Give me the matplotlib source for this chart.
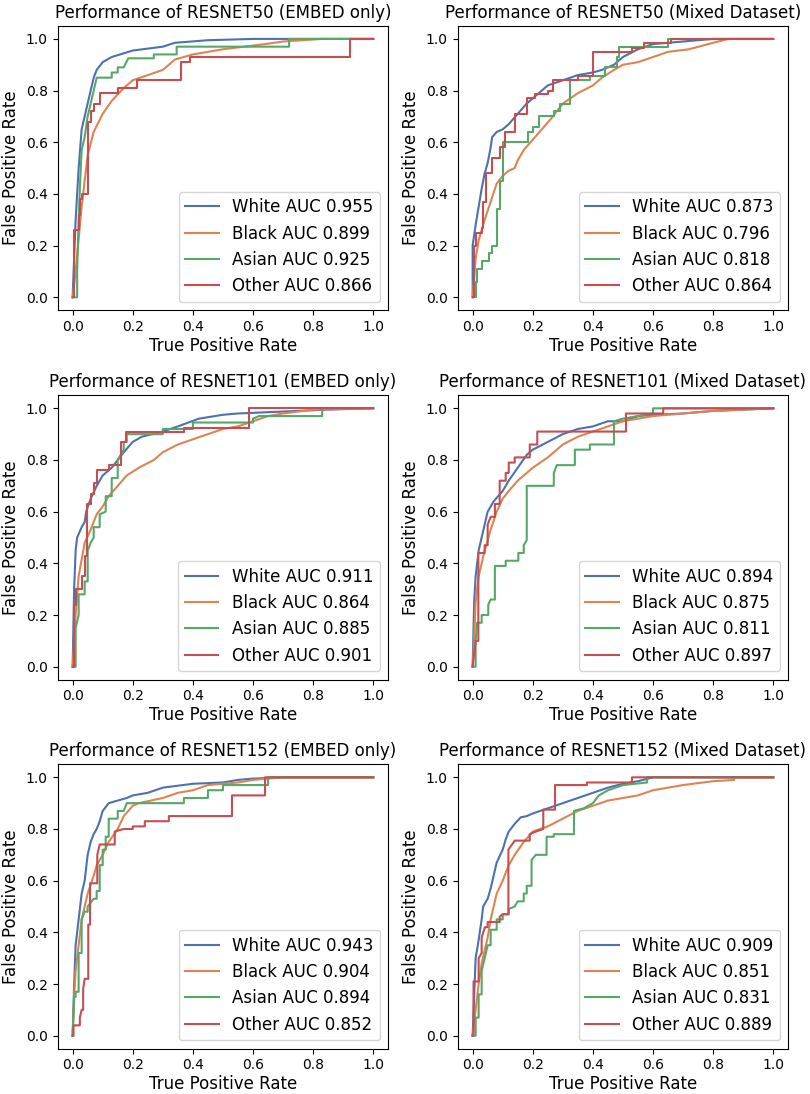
import matplotlib
matplotlib.use("Agg")
import matplotlib.pyplot as plt

groups = ["White", "Black", "Asian", "Other"]
colors = ["#4C72B0", "#DD8452", "#55A868", "#C44E52"]

titles = ["Performance of RESNET50 (EMBED only)", "Performance of RESNET50 (Mixed Dataset)",
          "Performance of RESNET101 (EMBED only)", "Performance of RESNET101 (Mixed Dataset)",
          "Performance of RESNET152 (EMBED only)", "Performance of RESNET152 (Mixed Dataset)"]

auc_values = [[0.955, 0.899, 0.925, 0.866],
              [0.873, 0.796, 0.818, 0.864],
              [0.911, 0.864, 0.885, 0.901],
              [0.894, 0.875, 0.811, 0.897],
              [0.943, 0.904, 0.894, 0.852],
              [0.909, 0.851, 0.831, 0.889]]

# ---------------- RESNET50 EMBED only ----------------
r50e_white_fpr = [0, 0.005, 0.01, 0.02, 0.03, 0.05, 0.07, 0.08, 0.1, 0.13, 0.2, 0.3, 0.34, 0.45, 0.6, 1.0]
r50e_white_tpr = [0, 0.15, 0.3, 0.5, 0.65, 0.75, 0.85, 0.88, 0.91, 0.93, 0.955, 0.97, 0.985, 0.995, 1.0, 1.0]
r50e_black_fpr = [0, 0.01, 0.03, 0.05, 0.07, 0.1, 0.13, 0.17, 0.2, 0.25, 0.3, 0.34, 0.4, 0.5, 0.64, 0.7, 0.83, 1.0]
r50e_black_tpr = [0, 0.1, 0.35, 0.55, 0.64, 0.71, 0.76, 0.81, 0.84, 0.86, 0.88, 0.92, 0.94, 0.96, 0.98, 0.99, 1.0, 1.0]
r50e_asian_fpr = [0, 0.015, 0.015, 0.02, 0.025, 0.03, 0.04, 0.05, 0.06, 0.08, 0.13, 0.13, 0.15, 0.15, 0.17, 0.185, 0.27, 0.27, 0.346, 0.346, 0.72, 0.72, 1.0]
r50e_asian_tpr = [0, 0.0, 0.1, 0.3, 0.45, 0.57, 0.62, 0.7, 0.75, 0.85, 0.85, 0.87, 0.87, 0.89, 0.89, 0.925, 0.925, 0.94, 0.94, 0.97, 0.97, 1.0, 1.0]
r50e_other_fpr = [0, 0.005, 0.005, 0.02, 0.02, 0.025, 0.025, 0.03, 0.03, 0.05, 0.05, 0.06, 0.06, 0.07, 0.07, 0.09, 0.09, 0.15, 0.15, 0.215, 0.215, 0.36, 0.36, 0.39, 0.39, 0.922, 0.922, 1.0]
r50e_other_tpr = [0, 0.0, 0.26, 0.26, 0.32, 0.32, 0.38, 0.38, 0.40, 0.40, 0.68, 0.68, 0.72, 0.72, 0.75, 0.75, 0.79, 0.79, 0.81, 0.81, 0.84, 0.84, 0.91, 0.91, 0.93, 0.93, 1.0, 1.0]

# ---------------- RESNET50 Mixed ----------------
r50m_white_fpr = [0, 0.0, 0.01, 0.02, 0.03, 0.04, 0.05, 0.06, 0.065, 0.08, 0.1, 0.12, 0.15, 0.18, 0.2, 0.23, 0.25, 0.3, 0.35, 0.4, 0.43, 0.47, 0.5, 0.55, 0.6, 0.7, 0.8, 1.0]
r50m_white_tpr = [0, 0.2, 0.28, 0.35, 0.42, 0.48, 0.52, 0.58, 0.62, 0.64, 0.65, 0.67, 0.71, 0.75, 0.77, 0.8, 0.82, 0.84, 0.86, 0.87, 0.88, 0.9, 0.93, 0.96, 0.98, 0.99, 1.0, 1.0]
r50m_black_fpr = [0, 0.01, 0.02, 0.04, 0.06, 0.08, 0.1, 0.12, 0.14, 0.15, 0.17, 0.2, 0.23, 0.26, 0.3, 0.35, 0.4, 0.43, 0.47, 0.5, 0.55, 0.6, 0.65, 0.72, 0.8, 0.85, 1.0]
r50m_black_tpr = [0, 0.15, 0.22, 0.3, 0.37, 0.44, 0.47, 0.49, 0.5, 0.53, 0.57, 0.61, 0.65, 0.69, 0.75, 0.79, 0.82, 0.85, 0.88, 0.9, 0.91, 0.93, 0.95, 0.96, 0.985, 1.0, 1.0]
r50m_asian_fpr = [0, 0.01, 0.01, 0.015, 0.015, 0.03, 0.03, 0.054, 0.054, 0.065, 0.065, 0.08, 0.08, 0.09, 0.09, 0.1, 0.1, 0.185, 0.185, 0.2, 0.2, 0.22, 0.22, 0.27, 0.27, 0.29, 0.29, 0.324, 0.324, 0.39, 0.39, 0.44, 0.44, 0.48, 0.48, 0.488, 0.488, 0.65, 0.65, 1.0]
r50m_asian_tpr = [0, 0.0, 0.06, 0.06, 0.11, 0.11, 0.14, 0.14, 0.17, 0.17, 0.2, 0.2, 0.34, 0.34, 0.45, 0.45, 0.6, 0.6, 0.64, 0.64, 0.66, 0.66, 0.7, 0.7, 0.72, 0.72, 0.75, 0.75, 0.84, 0.84, 0.855, 0.855, 0.89, 0.89, 0.93, 0.93, 0.97, 0.97, 1.0, 1.0]
r50m_other_fpr = [0, 0.005, 0.005, 0.01, 0.01, 0.03, 0.03, 0.035, 0.035, 0.045, 0.045, 0.063, 0.063, 0.09, 0.09, 0.108, 0.108, 0.14, 0.14, 0.18, 0.18, 0.207, 0.207, 0.25, 0.25, 0.268, 0.268, 0.35, 0.35, 0.4, 0.4, 0.53, 0.53, 0.57, 0.57, 0.66, 0.66, 1.0]
r50m_other_tpr = [0, 0.0, 0.2, 0.2, 0.25, 0.25, 0.27, 0.27, 0.37, 0.37, 0.48, 0.48, 0.54, 0.54, 0.58, 0.58, 0.64, 0.64, 0.71, 0.71, 0.77, 0.77, 0.785, 0.785, 0.8, 0.8, 0.84, 0.84, 0.855, 0.855, 0.95, 0.95, 0.965, 0.965, 0.985, 0.985, 1.0, 1.0]

# ---------------- RESNET101 EMBED only ----------------
r101e_white_fpr = [0, 0.005, 0.01, 0.015, 0.03, 0.04, 0.045, 0.06, 0.08, 0.1, 0.13, 0.15, 0.17, 0.2, 0.23, 0.3, 0.35, 0.42, 0.5, 0.55, 0.65, 0.75, 0.85, 1.0]
r101e_white_tpr = [0, 0.3, 0.45, 0.5, 0.54, 0.56, 0.6, 0.65, 0.7, 0.74, 0.77, 0.8, 0.83, 0.87, 0.89, 0.91, 0.93, 0.96, 0.975, 0.98, 0.985, 0.99, 0.995, 1.0]
r101e_black_fpr = [0, 0.01, 0.02, 0.04, 0.06, 0.08, 0.1, 0.12, 0.15, 0.18, 0.22, 0.27, 0.3, 0.35, 0.4, 0.45, 0.5, 0.55, 0.6, 0.65, 0.7, 0.8, 1.0]
r101e_black_tpr = [0, 0.2, 0.35, 0.48, 0.53, 0.59, 0.62, 0.66, 0.7, 0.74, 0.77, 0.8, 0.83, 0.86, 0.88, 0.9, 0.92, 0.93, 0.95, 0.97, 0.98, 0.995, 1.0]
r101e_asian_fpr = [0, 0.01, 0.01, 0.02, 0.02, 0.04, 0.04, 0.05, 0.05, 0.06, 0.07, 0.07, 0.09, 0.09, 0.11, 0.11, 0.13, 0.13, 0.15, 0.15, 0.17, 0.17, 0.18, 0.18, 0.3, 0.3, 0.4, 0.4, 0.6, 0.6, 0.62, 0.83, 0.83, 1.0]
r101e_asian_tpr = [0, 0.0, 0.15, 0.2, 0.28, 0.28, 0.33, 0.33, 0.45, 0.48, 0.5, 0.54, 0.54, 0.59, 0.6, 0.66, 0.66, 0.73, 0.73, 0.8, 0.84, 0.87, 0.87, 0.9, 0.9, 0.92, 0.92, 0.945, 0.945, 0.96, 0.97, 0.97, 1.0, 1.0]
r101e_other_fpr = [0, 0.005, 0.005, 0.01, 0.01, 0.03, 0.03, 0.04, 0.04, 0.049, 0.049, 0.06, 0.06, 0.07, 0.07, 0.082, 0.082, 0.12, 0.12, 0.16, 0.16, 0.177, 0.177, 0.37, 0.37, 0.587, 0.587, 1.0]
r101e_other_tpr = [0, 0.0, 0.24, 0.24, 0.3, 0.3, 0.35, 0.35, 0.43, 0.43, 0.63, 0.63, 0.67, 0.67, 0.71, 0.71, 0.76, 0.76, 0.78, 0.78, 0.87, 0.87, 0.91, 0.91, 0.925, 0.925, 1.0, 1.0]

# ---------------- RESNET101 Mixed ----------------
r101m_white_fpr = [0, 0.005, 0.01, 0.02, 0.03, 0.04, 0.05, 0.07, 0.1, 0.12, 0.15, 0.18, 0.2, 0.25, 0.3, 0.35, 0.4, 0.45, 0.5, 0.55, 0.6, 0.7, 0.8, 1.0]
r101m_white_tpr = [0, 0.25, 0.35, 0.45, 0.5, 0.55, 0.6, 0.64, 0.68, 0.72, 0.77, 0.82, 0.84, 0.87, 0.9, 0.92, 0.93, 0.95, 0.95, 0.97, 0.975, 0.98, 0.99, 1.0]
r101m_black_fpr = [0, 0.005, 0.01, 0.02, 0.03, 0.04, 0.06, 0.08, 0.1, 0.12, 0.15, 0.2, 0.25, 0.3, 0.35, 0.4, 0.45, 0.5, 0.55, 0.6, 0.7, 0.8, 1.0]
r101m_black_tpr = [0, 0.1, 0.25, 0.35, 0.4, 0.45, 0.53, 0.6, 0.65, 0.68, 0.72, 0.77, 0.81, 0.86, 0.89, 0.91, 0.93, 0.95, 0.96, 0.97, 0.98, 0.99, 1.0]
r101m_asian_fpr = [0, 0.01, 0.01, 0.015, 0.03, 0.03, 0.052, 0.052, 0.06, 0.074, 0.074, 0.11, 0.11, 0.152, 0.152, 0.17, 0.17, 0.18, 0.18, 0.27, 0.27, 0.28, 0.34, 0.34, 0.39, 0.39, 0.47, 0.47, 0.5, 0.6, 0.6, 1.0]
r101m_asian_tpr = [0, 0.0, 0.1, 0.17, 0.17, 0.2, 0.2, 0.24, 0.26, 0.26, 0.39, 0.39, 0.41, 0.41, 0.44, 0.44, 0.47, 0.49, 0.7, 0.7, 0.75, 0.78, 0.78, 0.84, 0.84, 0.86, 0.86, 0.95, 0.96, 0.98, 1.0, 1.0]
r101m_other_fpr = [0, 0.005, 0.01, 0.019, 0.019, 0.04, 0.04, 0.05, 0.05, 0.06, 0.074, 0.074, 0.09, 0.09, 0.11, 0.11, 0.12, 0.12, 0.14, 0.14, 0.19, 0.19, 0.215, 0.215, 0.51, 0.51, 0.634, 0.634, 1.0]
r101m_other_tpr = [0, 0.05, 0.1, 0.1, 0.44, 0.44, 0.47, 0.47, 0.55, 0.58, 0.58, 0.63, 0.63, 0.72, 0.72, 0.75, 0.75, 0.79, 0.79, 0.81, 0.81, 0.86, 0.86, 0.91, 0.91, 0.98, 0.98, 1.0, 1.0]

# ---------------- RESNET152 EMBED only ----------------
r152e_white_fpr = [0, 0.005, 0.01, 0.02, 0.03, 0.04, 0.05, 0.06, 0.07, 0.08, 0.09, 0.1, 0.12, 0.15, 0.18, 0.2, 0.25, 0.3, 0.4, 0.5, 0.55, 0.6, 0.7, 1.0]
r152e_white_tpr = [0, 0.2, 0.35, 0.45, 0.55, 0.6, 0.7, 0.75, 0.78, 0.8, 0.83, 0.87, 0.9, 0.91, 0.92, 0.93, 0.94, 0.96, 0.975, 0.98, 0.99, 0.995, 1.0, 1.0]
r152e_black_fpr = [0, 0.005, 0.01, 0.02, 0.03, 0.05, 0.07, 0.08, 0.1, 0.12, 0.15, 0.17, 0.2, 0.22, 0.3, 0.35, 0.4, 0.45, 0.5, 0.55, 0.6, 0.7, 1.0]
r152e_black_tpr = [0, 0.15, 0.25, 0.35, 0.45, 0.55, 0.62, 0.66, 0.7, 0.75, 0.8, 0.85, 0.89, 0.9, 0.92, 0.94, 0.95, 0.97, 0.975, 0.98, 0.99, 1.0, 1.0]
r152e_asian_fpr = [0, 0.005, 0.01, 0.01, 0.02, 0.02, 0.03, 0.03, 0.04, 0.05, 0.05, 0.07, 0.08, 0.08, 0.09, 0.09, 0.1, 0.1, 0.11, 0.11, 0.12, 0.12, 0.15, 0.15, 0.17, 0.18, 0.37, 0.37, 0.45, 0.45, 0.5, 0.5, 0.65, 0.65, 1.0]
r152e_asian_tpr = [0, 0.15, 0.15, 0.17, 0.17, 0.32, 0.32, 0.45, 0.48, 0.48, 0.5, 0.53, 0.53, 0.56, 0.56, 0.66, 0.66, 0.72, 0.72, 0.77, 0.77, 0.84, 0.84, 0.87, 0.87, 0.9, 0.9, 0.92, 0.92, 0.95, 0.95, 0.97, 0.97, 1.0, 1.0]
r152e_other_fpr = [0, 0.003, 0.003, 0.024, 0.024, 0.03, 0.035, 0.035, 0.04, 0.052, 0.052, 0.058, 0.058, 0.082, 0.082, 0.09, 0.14, 0.14, 0.17, 0.2, 0.2, 0.24, 0.24, 0.32, 0.32, 0.53, 0.53, 0.64, 0.64, 1.0]
r152e_other_tpr = [0, 0.0, 0.04, 0.04, 0.07, 0.1, 0.1, 0.18, 0.22, 0.22, 0.43, 0.43, 0.59, 0.59, 0.7, 0.74, 0.74, 0.79, 0.8, 0.8, 0.81, 0.81, 0.83, 0.83, 0.85, 0.85, 0.93, 0.93, 1.0, 1.0]

# ---------------- RESNET152 Mixed ----------------
r152m_white_fpr = [0, 0.005, 0.01, 0.02, 0.03, 0.035, 0.05, 0.06, 0.07, 0.08, 0.1, 0.11, 0.12, 0.14, 0.16, 0.18, 0.2, 0.25, 0.3, 0.35, 0.4, 0.45, 0.5, 0.55, 0.6, 1.0]
r152m_white_tpr = [0, 0.15, 0.3, 0.37, 0.45, 0.5, 0.53, 0.57, 0.62, 0.67, 0.72, 0.76, 0.79, 0.82, 0.845, 0.85, 0.86, 0.88, 0.9, 0.92, 0.94, 0.96, 0.975, 0.985, 1.0, 1.0]
r152m_black_fpr = [0, 0.01, 0.02, 0.03, 0.04, 0.05, 0.06, 0.07, 0.08, 0.1, 0.12, 0.14, 0.17, 0.2, 0.25, 0.3, 0.35, 0.4, 0.45, 0.5, 0.55, 0.6, 0.7, 0.8, 0.87, 0.87, 1.0]
r152m_black_tpr = [0, 0.1, 0.2, 0.28, 0.33, 0.38, 0.45, 0.5, 0.55, 0.6, 0.66, 0.7, 0.75, 0.79, 0.81, 0.84, 0.87, 0.89, 0.91, 0.92, 0.93, 0.95, 0.97, 0.985, 0.99, 1.0, 1.0]
r152m_asian_fpr = [0, 0.01, 0.01, 0.02, 0.02, 0.03, 0.03, 0.04, 0.05, 0.06, 0.06, 0.08, 0.08, 0.1, 0.1, 0.12, 0.12, 0.14, 0.15, 0.17, 0.17, 0.18, 0.18, 0.196, 0.196, 0.21, 0.246, 0.246, 0.27, 0.27, 0.337, 0.337, 0.37, 0.4, 0.42, 0.45, 0.5, 0.58, 0.58, 1.0]
r152m_asian_tpr = [0, 0.0, 0.07, 0.07, 0.16, 0.16, 0.25, 0.3, 0.35, 0.35, 0.41, 0.41, 0.45, 0.45, 0.47, 0.47, 0.49, 0.5, 0.52, 0.52, 0.55, 0.55, 0.58, 0.58, 0.68, 0.7, 0.7, 0.77, 0.77, 0.78, 0.78, 0.87, 0.88, 0.9, 0.93, 0.95, 0.97, 0.98, 1.0, 1.0]
r152m_other_fpr = [0, 0.003, 0.003, 0.02, 0.02, 0.03, 0.03, 0.041, 0.05, 0.05, 0.09, 0.09, 0.1, 0.119, 0.119, 0.14, 0.19, 0.19, 0.21, 0.235, 0.235, 0.274, 0.274, 0.38, 0.38, 0.53, 0.53, 1.0]
r152m_other_tpr = [0, 0.0, 0.21, 0.21, 0.3, 0.32, 0.38, 0.42, 0.42, 0.44, 0.44, 0.46, 0.47, 0.47, 0.72, 0.755, 0.755, 0.78, 0.79, 0.8, 0.875, 0.875, 0.97, 0.97, 0.98, 0.98, 1.0, 1.0]

panels = [
    [(r50e_white_fpr, r50e_white_tpr), (r50e_black_fpr, r50e_black_tpr), (r50e_asian_fpr, r50e_asian_tpr), (r50e_other_fpr, r50e_other_tpr)],
    [(r50m_white_fpr, r50m_white_tpr), (r50m_black_fpr, r50m_black_tpr), (r50m_asian_fpr, r50m_asian_tpr), (r50m_other_fpr, r50m_other_tpr)],
    [(r101e_white_fpr, r101e_white_tpr), (r101e_black_fpr, r101e_black_tpr), (r101e_asian_fpr, r101e_asian_tpr), (r101e_other_fpr, r101e_other_tpr)],
    [(r101m_white_fpr, r101m_white_tpr), (r101m_black_fpr, r101m_black_tpr), (r101m_asian_fpr, r101m_asian_tpr), (r101m_other_fpr, r101m_other_tpr)],
    [(r152e_white_fpr, r152e_white_tpr), (r152e_black_fpr, r152e_black_tpr), (r152e_asian_fpr, r152e_asian_tpr), (r152e_other_fpr, r152e_other_tpr)],
    [(r152m_white_fpr, r152m_white_tpr), (r152m_black_fpr, r152m_black_tpr), (r152m_asian_fpr, r152m_asian_tpr), (r152m_other_fpr, r152m_other_tpr)],
]

W, H = 810, 1094
fig = plt.figure(figsize=(W / 100, H / 100), dpi=100)

lefts = [57.6, 457.6]
tops = [26.0, 395.4, 764.4]
aw, ah = 330.7, 284.2

for i, curves in enumerate(panels):
    r, c = divmod(i, 2)
    left = lefts[c] / W
    bottom = 1 - (tops[r] + ah) / H
    ax = fig.add_axes([left, bottom, aw / W, ah / H])
    for g, (fpr, tpr), col, auc in zip(groups, curves, colors, auc_values[i]):
        ax.plot(fpr, tpr, color=col, lw=1.5, label=f"{g} AUC {auc:.3f}")
    ax.set_title(titles[i], fontsize=12, pad=6)
    ax.set_xlabel("True Positive Rate", fontsize=12, labelpad=2)
    ax.set_ylabel("False Positive Rate", fontsize=12, labelpad=4)
    ax.set_xticks([0, 0.2, 0.4, 0.6, 0.8, 1.0])
    ax.set_yticks([0, 0.2, 0.4, 0.6, 0.8, 1.0])
    ax.tick_params(labelsize=10)
    ax.legend(loc="lower right", fontsize=12)

fig.savefig("out.png", dpi=100)
